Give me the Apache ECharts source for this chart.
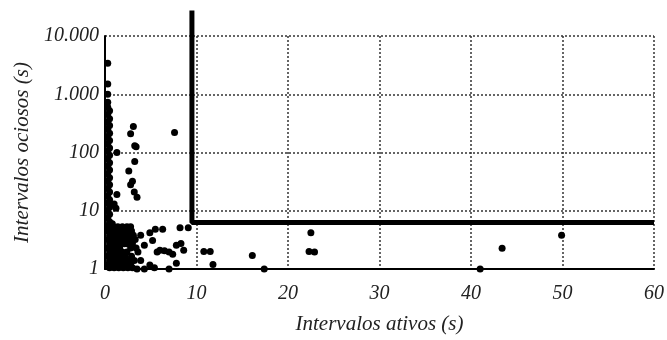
<!DOCTYPE html>
<html>
<head>
<meta charset="utf-8">
<script src="https://cdn.jsdelivr.net/npm/echarts@6/dist/echarts.min.js"></script>
<style>
    html, body { margin: 0; padding: 0; background: #fff; }
    #chart { width: 667px; height: 340px; }
</style>
</head>
<body>
<div id="chart"></div>
<script>
// pontos (intervalo ativo s, intervalo ocioso s)
var columnPoints = [
    [0.3, 3400], [0.3, 1500], [0.3, 1000], [0.3, 730], [0.3, 600], [0.5, 520],
    [0.3, 450], [0.5, 380], [0.3, 330], [0.5, 290], [0.3, 250], [0.5, 215],
    [0.3, 185], [0.5, 160], [0.3, 140], [0.5, 120], [0.3, 105], [0.5, 90],
    [0.3, 78], [0.5, 67], [0.3, 58], [0.5, 50], [0.3, 43], [0.5, 37],
    [0.3, 32], [0.5, 28], [0.3, 24], [0.5, 21], [0.3, 18], [0.5, 15.5],
    [0.3, 13.5], [0.5, 11.5], [0.3, 10], [0.5, 8.7], [0.3, 7.5], [0.5, 6.5],
    [0.3, 5.6], [0.8, 6.0]
];

var clusterPoints = [
    [0.4, 5.3], [0.9, 5.3], [1.4, 5.3], [1.9, 5.3], [2.4, 5.3], [2.8, 5.3],
    [0.3, 4.5], [0.8, 4.5], [1.3, 4.5], [1.8, 4.5], [2.3, 4.5], [2.9, 4.5], [3.9, 3.8],
    [0.5, 3.8], [1.0, 3.8], [1.5, 3.8], [2.0, 3.8], [2.6, 3.8], [3.1, 3.8],
    [0.3, 3.2], [0.8, 3.2], [1.2, 3.2], [1.7, 3.2], [2.2, 3.2], [2.7, 3.2], [3.3, 3.2],
    [0.5, 2.7], [1.0, 2.7], [1.5, 2.7], [2.1, 2.7], [2.4, 2.7], [3.0, 2.7],
    [0.3, 2.3], [0.7, 2.3], [1.2, 2.3], [1.6, 2.3], [2.8, 2.3], [3.4, 2.3],
    [0.5, 1.95], [1.0, 1.95], [1.4, 1.95], [1.9, 1.95], [2.4, 1.95], [3.6, 1.95],
    [0.3, 1.65], [0.8, 1.65], [1.3, 1.65], [1.7, 1.65], [2.2, 1.65], [2.9, 1.65],
    [0.5, 1.4], [0.9, 1.4], [1.5, 1.4], [2.0, 1.4], [2.6, 1.4], [3.2, 1.4], [3.9, 1.4],
    [0.3, 1.2], [0.8, 1.2], [1.2, 1.2], [1.8, 1.2], [2.3, 1.2], [2.8, 1.2],
    [0.5, 1.05], [1.0, 1.05], [1.5, 1.05], [2.0, 1.05], [2.5, 1.05], [3.0, 1.05],
    [3.5, 1.0], [4.3, 1.0], [4.9, 1.17], [5.4, 1.05]
];

var upperPoints = [
    [3.1, 280], [2.8, 210], [7.6, 220], [3.25, 130], [3.4, 125], [3.25, 70],
    [2.6, 48], [3.0, 32], [2.8, 28], [3.2, 21], [3.5, 17], [1.3, 100],
    [1.3, 19], [1.2, 11], [1.0, 13]
];

var scatterPoints = [
    [5.5, 4.8], [6.3, 4.8], [4.9, 4.2], [8.2, 5.1], [9.1, 5.1], [5.2, 3.1],
    [4.3, 2.55], [7.8, 2.55], [8.3, 2.75], [8.6, 2.1], [6.0, 2.1], [6.5, 2.05],
    [7.0, 1.95], [7.4, 1.8], [5.7, 1.95], [7.8, 1.26], [7.0, 1.0], [10.8, 2.0],
    [11.5, 2.0], [11.8, 1.2], [16.1, 1.7], [17.4, 1.0], [22.5, 4.2], [22.3, 2.0],
    [22.9, 1.95], [41.0, 1.0], [43.4, 2.27], [49.9, 3.8]
];

// linha de limite (grossa)
var limitLine = [[9.5, 27500], [9.5, 6.3], [60, 6.3]];

var yTickLabels = { 1: '1', 10: '10', 100: '100', 1000: '1.000', 10000: '10.000' };

var fontFam = "'Liberation Serif', 'Times New Roman', serif";

var myChart = echarts.init(document.getElementById('chart'));

var option = {
    animation: false,
    grid: { left: 105, right: 9, top: 36, bottom: 68 },
    xAxis: {
        type: 'value',
        min: 0,
        max: 60,
        interval: 10,
        name: 'Intervalos ativos (s)',
        nameLocation: 'middle',
        nameGap: 45,
        nameTextStyle: { fontFamily: fontFam, fontStyle: 'italic', fontSize: 21, color: '#222' },
        axisLine: { onZero: false, lineStyle: { color: '#000', width: 2 } },
        axisTick: { show: false },
        axisLabel: { fontFamily: fontFam, fontStyle: 'italic', fontSize: 20, color: '#222', margin: 15 },
        splitLine: { show: true, lineStyle: { color: '#333', width: 1.5, type: [2, 2] } }
    },
    yAxis: {
        type: 'log',
        logBase: 10,
        min: 1,
        max: 10000,
        name: 'Intervalos ociosos (s)',
        nameLocation: 'middle',
        nameGap: 72,
        nameTextStyle: { fontFamily: fontFam, fontStyle: 'italic', fontSize: 21, color: '#222' },
        axisLine: { onZero: false, lineStyle: { color: '#000', width: 2 } },
        axisTick: { show: false },
        axisLabel: {
            fontFamily: fontFam, fontStyle: 'italic', fontSize: 20, color: '#222', margin: 6,
            formatter: function (v) {
                return yTickLabels[Math.round(v)] || '';
            }
        },
        splitLine: { show: true, lineStyle: { color: '#333', width: 1.5, type: [2, 2] } }
    },
    series: [
        {
            type: 'scatter',
            symbolSize: 7,
            itemStyle: { color: '#000', opacity: 1 },
            data: columnPoints.concat(clusterPoints, upperPoints, scatterPoints)
        },
        {
            type: 'line',
            clip: false,
            symbol: 'none',
            lineStyle: { color: '#000', width: 5 },
            data: limitLine,
            z: 5
        }
    ]
};

myChart.setOption(option);
</script>
</body>
</html>
